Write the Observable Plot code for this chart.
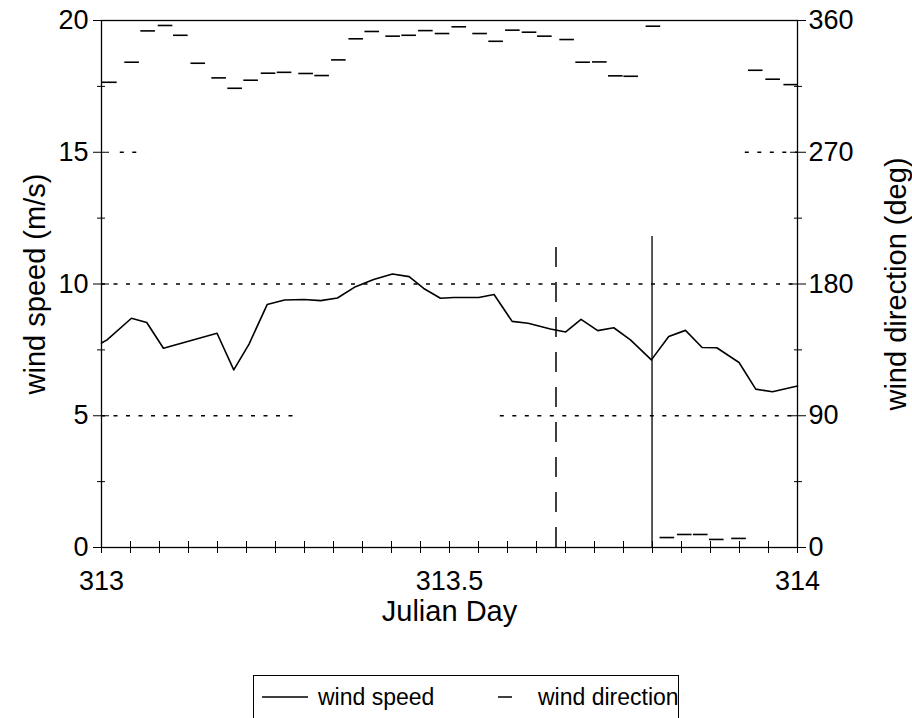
<!DOCTYPE html>
<html>
<head>
<meta charset="utf-8">
<script src="https://cdn.jsdelivr.net/npm/d3@7"></script>
<script src="https://cdn.jsdelivr.net/npm/@observablehq/plot@0.6"></script>
<style>
  body { margin: 0; background: #fff; }
  #chart { position: relative; width: 912px; height: 718px; overflow: hidden; font-family: Arial, "Liberation Sans", sans-serif; }
  #chart svg { display: block; }
  .legend {
    position: absolute; left: 253px; top: 675px; width: 426px; height: 60px;
    border: 1px solid #000; box-sizing: border-box; font-size: 23px; color: #000;
  }
  .legend .item { position: absolute; top: 7px; height: 28px; display: flex; align-items: center; white-space: nowrap; }
  .legend .swatch { display: block; flex: none; }
</style>
</head>
<body>
<div id="chart"></div>
<script>
// Julian day of each wind speed sample and the speed (m/s)
const speedDay = [313.000, 313.008, 313.043, 313.065, 313.089, 313.166, 313.190, 313.212, 313.238,
  313.263, 313.291, 313.315, 313.339, 313.365, 313.391, 313.418, 313.442, 313.463, 313.487, 313.506,
  313.542, 313.564, 313.590, 313.613, 313.645, 313.667, 313.689, 313.713, 313.736, 313.760, 313.790,
  313.815, 313.839, 313.863, 313.884, 313.916, 313.940, 313.964, 314.000];
const speedMs = [7.76, 7.88, 8.70, 8.54, 7.56, 8.13, 6.74, 7.72, 9.22,
  9.39, 9.41, 9.37, 9.47, 9.90, 10.17, 10.38, 10.28, 9.83, 9.46, 9.49,
  9.49, 9.60, 8.58, 8.51, 8.29, 8.18, 8.66, 8.23, 8.34, 7.88, 7.12,
  8.01, 8.24, 7.59, 7.58, 7.02, 6.01, 5.91, 6.13];

// Julian day of each wind direction sample and the direction (deg)
const dirDay = [313.012, 313.044, 313.067, 313.092, 313.114, 313.139, 313.169, 313.192, 313.215,
  313.240, 313.263, 313.294, 313.317, 313.341, 313.366, 313.389, 313.419, 313.442, 313.466, 313.490,
  313.514, 313.544, 313.567, 313.591, 313.615, 313.637, 313.669, 313.692, 313.716, 313.739, 313.761,
  313.793, 313.813, 313.838, 313.861, 313.884, 313.916, 313.940, 313.965, 313.991];
const dirDeg = [317.8, 331.5, 352.9, 356.6, 349.9, 330.8, 320.8, 313.7, 319.2,
  324.0, 324.6, 323.8, 322.4, 333.1, 347.5, 352.5, 349.3, 349.9, 353.1, 351.1,
  355.7, 351.1, 345.8, 353.4, 352.0, 349.3, 347.0, 331.5, 331.7, 322.2, 321.9,
  356.1, 6.8, 8.9, 8.9, 5.5, 6.2, 326.0, 319.9, 316.2];

// Event markers (Julian day, height in m/s)
const eventDashedDay = [313.653];
const eventSolidDay = [313.791];
const eventTop = [11.8];

// Reference levels (m/s) and the stretches of the day they span
const gridLevel = [10, 5, 5, 15, 15];
const gridFrom = [313.000, 313.000, 313.573, 313.027, 313.925];
const gridTo = [314.000, 313.279, 314.000, 313.063, 314.000];

// Tick labels
const speedTicks = [0, 5, 10, 15, 20];
const dirTicks = [0, 90, 180, 270, 360];
const dayTicks = [313, 313.5, 314];

// Direction is drawn on the speed scale: 360 deg spans the 20 m/s range
const DEG_PER_MS = 360 / 20;
const toSpeedUnits = (deg) => deg / DEG_PER_MS;

const speedData = speedDay.map((t, i) => ({t, v: speedMs[i]}));
const dirData = dirDay.map((t, i) => ({t, v: toSpeedUnits(dirDeg[i])}));
const gridData = gridLevel.map((y, i) => ({y, x1: gridFrom[i], x2: gridTo[i]}));
const dashedEvents = eventDashedDay.map((t, i) => ({t, top: eventTop[i]}));
const solidEvents = eventSolidDay.map((t, i) => ({t, top: eventTop[i]}));

const hourTicks = d3.range(25).map(i => 313 + i / 24);
const minorSpeed = d3.range(8).map(i => 2.5 + i * 5).filter(v => v < 20);
const dirTickPos = dirTicks.map(toSpeedUnits);
const halfDash = 0.0105;
const blank = () => "";
const tickFont = 27;
const titleFont = 29;

const plot = Plot.plot({
  width: 912,
  height: 660,
  marginLeft: 101,
  marginRight: 115,
  marginTop: 20,
  marginBottom: 113,
  style: {fontFamily: "Arial, 'Liberation Sans', sans-serif", fontSize: tickFont + "px", color: "#000", background: "#fff"},
  x: {domain: [313, 314]},
  y: {domain: [0, 20]},
  marks: [
    // reference levels
    Plot.ruleY(gridData, {y: "y", x1: "x1", x2: "x2", stroke: "#000", strokeWidth: 1.3, strokeDasharray: "4,8.5"}),
    // event markers
    Plot.ruleX(dashedEvents, {x: "t", y1: 0, y2: "top", stroke: "#000", strokeWidth: 1.5, strokeDasharray: "20,15"}),
    Plot.ruleX(solidEvents, {x: "t", y1: 0, y2: "top", stroke: "#000", strokeWidth: 1.3}),
    // wind speed
    Plot.line(speedData, {x: "t", y: "v", stroke: "#000", strokeWidth: 1.6}),
    // wind direction, one short dash per sample
    Plot.ruleY(dirData, {y: "v", x1: d => d.t - halfDash, x2: d => d.t + halfDash, stroke: "#000", strokeWidth: 1.6}),
    // frame
    Plot.frame({stroke: "#000", strokeWidth: 1.3}),
    // left axis
    Plot.axisY(speedTicks, {anchor: "left", tickSize: 16, dx: 8, tickFormat: blank, label: null, stroke: "#000"}),
    Plot.axisY(minorSpeed, {anchor: "left", tickSize: 8, dx: 4, tickFormat: blank, label: null, stroke: "#000"}),
    Plot.axisY(speedTicks, {anchor: "left", tickSize: 0, tickPadding: 13, label: null, fontSize: tickFont}),
    // right axis (direction)
    Plot.axisY(dirTickPos, {anchor: "right", tickSize: 16, dx: -8, tickFormat: blank, label: null, stroke: "#000"}),
    Plot.axisY(minorSpeed, {anchor: "right", tickSize: 8, dx: -4, tickFormat: blank, label: null, stroke: "#000"}),
    Plot.axisY(dirTickPos, {anchor: "right", tickSize: 0, tickPadding: 11, label: null, fontSize: tickFont,
      tickFormat: v => String(Math.round(v * DEG_PER_MS))}),
    // bottom axis
    Plot.axisX(hourTicks, {anchor: "bottom", tickSize: 12, dy: -6, tickFormat: blank, label: null, stroke: "#000"}),
    Plot.axisX(dayTicks, {anchor: "bottom", tickSize: 0, tickPadding: 23, label: null, fontSize: tickFont,
      tickFormat: d => String(d)}),
    // axis titles
    Plot.text(["wind speed (m/s)"], {frameAnchor: "left", dx: -66, rotate: -90, fontSize: titleFont,
      textAnchor: "middle", lineAnchor: "middle"}),
    Plot.text(["wind direction (deg)"], {frameAnchor: "right", dx: 99, rotate: -90, fontSize: titleFont,
      textAnchor: "middle", lineAnchor: "middle"}),
    Plot.text(["Julian Day"], {frameAnchor: "bottom", dy: 64, fontSize: titleFont,
      textAnchor: "middle", lineAnchor: "middle"})
  ]
});

const chart = document.getElementById("chart");
chart.appendChild(plot);

// legend below the plot
const legend = document.createElement("div");
legend.className = "legend";
legend.innerHTML = `
  <div class="item" style="left:8px">
    <svg class="swatch" width="46" height="10" style="margin-right:10px"><line x1="0" y1="5" x2="46" y2="5" stroke="#000" stroke-width="1.5"/></svg>
    <span>wind speed</span>
  </div>
  <div class="item" style="left:244px">
    <svg class="swatch" width="14" height="10" style="margin-right:26px"><line x1="0" y1="5" x2="14" y2="5" stroke="#000" stroke-width="1.5"/></svg>
    <span>wind direction</span>
  </div>`;
chart.appendChild(legend);
</script>
</body>
</html>
